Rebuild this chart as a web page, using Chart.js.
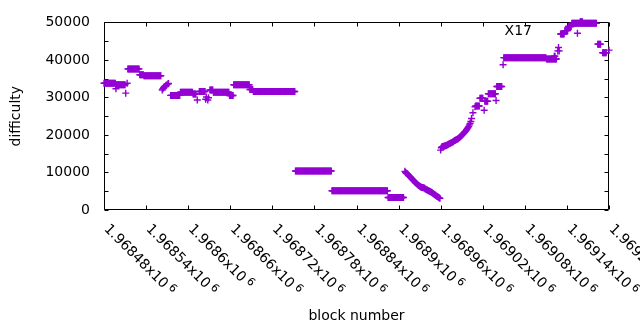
<!DOCTYPE html>
<html><head><meta charset="utf-8">
<script src="https://cdn.jsdelivr.net/npm/chart.js@4.4.1/dist/chart.umd.min.js"></script>
<style>html,body{margin:0;padding:0;background:#fff;}</style>
</head><body>
<canvas id="c" width="640" height="330" style="width:640px;height:330px;display:block"></canvas>
<script>
const seriesName = "X17";
const xTickValues = [1968480,1968540,1968600,1968660,1968720,1968780,1968840,1968900,1968960,1969020,1969080,1969140,1969200];
const yTickValues = [0,5000,10000,15000,20000,25000,30000,35000,40000,45000,50000];

// runs of blocks with constant difficulty
const runStart = [1968480,1968497,1968514,1968531,1968537,1968575,1968589,1968607,1968616,1968631,1968636,1968659,1968665,1968688,1968693,1968753,1968805,1968885,1969010,1969016,1969023,1969028,1969040,1969050,1969111,1969131,1969137,1969142,1969147,1969159,1969184,1969191];
const runEnd   = [1968496,1968510,1968530,1968536,1968561,1968588,1968606,1968611,1968624,1968635,1968658,1968664,1968687,1968692,1968752,1968804,1968884,1968907,1969015,1969020,1969027,1969038,1969047,1969110,1969125,1969136,1969141,1969146,1969182,1969162,1969188,1969196];
const runValue = [33800,33400,37600,36050,35800,30550,31400,30900,31600,32000,31400,30500,33400,32100,31600,10400,5150,3320,27700,29800,29000,31000,32900,40600,40250,46900,47800,48900,49750,50150,44200,41900];

// individual blocks
const pointBlock = [1968497,1968511,1968513,1968563,1968564,1968565,1968566,1968568,1968569,1968571,1968572,1968613,1968625,1968626,1968628,1968629,
1968909,1968910,1968911,1968912,1968913,1968914,1968915,1968916,1968917,1968918,1968919,1968920,1968921,1968922,1968923,1968924,1968925,1968926,1968927,1968928,1968929,1968930,1968931,1968932,1968933,1968934,1968935,1968936,1968937,1968938,1968939,1968940,1968941,1968942,1968943,1968944,1968945,1968946,1968947,1968948,1968949,1968950,1968951,1968952,1968953,1968954,1968955,1968956,1968957,1968958,1968959,
1968960,1968961,1968962,1968963,1968964,1968965,1968966,1968967,1968968,1968969,1968970,1968971,1968972,1968973,1968974,1968975,1968976,1968977,1968978,1968979,1968980,1968981,1968982,1968983,1968984,1968985,1968986,1968987,1968988,1968989,1968990,1968991,1968992,1968993,1968994,1968995,1968996,1968997,1968998,1968999,1969000,1969001,1969002,1969003,
1969004,1969006,1969009,1969022,1969039,1969049,1969122,1969123,1969127,1969128,1969129,1969155,1969200];
const pointValue = [32300,31150,33800,32000,32300,32600,32900,33100,33300,33600,33700,29300,29500,30100,29300,29900,
10300,10000,9800,9700,9500,9300,9100,8900,8700,8500,8300,8100,7900,7700,7500,7300,7100,7000,6800,6600,6500,6300,6200,6100,6000,6000,5900,5900,5800,5600,5500,5400,5300,5200,5100,5000,4900,4800,4700,4600,4400,4300,4100,4000,3900,3700,3600,3500,3300,3200,3100,
15970,16600,16900,16900,17000,17000,17100,17100,17200,17300,17400,17500,17600,17700,17800,17900,18000,18100,18200,18400,18500,18600,18700,18800,18900,19000,19200,19300,19500,19700,19900,20100,20300,20500,20700,20900,21100,21400,21700,22000,22300,22700,23100,23600,
24400,25900,27500,26600,29200,38700,41000,41000,42400,43300,42400,47100,42600];

const pts = [];
for (let i = 0; i < runStart.length; i++) {
  for (let b = runStart[i]; b <= runEnd[i]; b++) pts.push({x: b, y: runValue[i]});
}
for (let i = 0; i < pointBlock.length; i++) pts.push({x: pointBlock[i], y: pointValue[i]});

const FONT = "'DejaVu Sans', sans-serif";
const COLOR = '#9400D3';

const framePlugin = {
  id: 'frame',
  beforeDatasetsDraw(chart) {
    const {ctx, chartArea: a, scales: {x, y}} = chart;
    ctx.save();
    ctx.strokeStyle = '#000';
    ctx.lineWidth = 1;
    ctx.beginPath();
    const L = Math.round(a.left) + 0.5, R = Math.round(a.right) - 0.5, T = Math.round(a.top) + 0.5, B = Math.round(a.bottom) - 0.5;
    ctx.rect(L, T, R - L, B - T);
    const tl = 4;
    yTickValues.forEach(v => {
      const py = Math.round(y.getPixelForValue(v)) + 0.5;
      ctx.moveTo(L, py); ctx.lineTo(L + tl, py);
      ctx.moveTo(R, py); ctx.lineTo(R - tl, py);
    });
    xTickValues.forEach(v => {
      const px = Math.round(x.getPixelForValue(v)) + 0.5;
      ctx.moveTo(px, B); ctx.lineTo(px, B - tl);
      ctx.moveTo(px, T); ctx.lineTo(px, T + tl);
    });
    ctx.stroke();
    ctx.restore();
  },
  afterDraw(chart) {
    const {ctx, chartArea: a, scales: {x}} = chart;
    ctx.save();
    ctx.fillStyle = '#000';
    xTickValues.forEach(v => {
      const px = x.getPixelForValue(v);
      const s = (v / 1e6).toFixed(5).replace(/0+$/, '').replace(/\.$/, '') + 'x10';
      ctx.save();
      ctx.translate(px + 7, a.bottom + 12);
      ctx.rotate(Math.PI / 4);
      ctx.font = '14px ' + FONT;
      ctx.textAlign = 'left';
      ctx.textBaseline = 'top';
      ctx.fillText(s, 0, 0);
      const w = ctx.measureText(s).width;
      ctx.font = '11px ' + FONT;
      ctx.fillText('6', w + 3, -2);
      ctx.restore();
    });
    ctx.font = '14px ' + FONT;
    ctx.textAlign = 'right';
    ctx.textBaseline = 'middle';
    ctx.fillText(seriesName, 532, 31);
    ctx.restore();
  }
};

new Chart(document.getElementById('c'), {
  type: 'scatter',
  data: {
    datasets: [{
      label: seriesName,
      data: pts,
      pointStyle: 'cross',
      pointRadius: 3.5,
      pointHoverRadius: 3.5,
      borderColor: COLOR,
      backgroundColor: COLOR,
      pointBorderWidth: 1.4,
      borderWidth: 1.4,
      showLine: false,
      clip: false
    }]
  },
  options: {
    responsive: false,
    animation: false,
    devicePixelRatio: 1,
    events: [],
    layout: {padding: {left: 0, right: 31, top: 19, bottom: 0}},
    plugins: {legend: {display: false}, tooltip: {enabled: false}},
    scales: {
      x: {
        type: 'linear', min: 1968480, max: 1969200,
        afterBuildTicks: s => { s.ticks = xTickValues.map(v => ({value: v})); },
        afterFit: s => { s.height = 120; },
        ticks: {display: false},
        grid: {display: false},
        border: {display: false},
        title: {display: true, text: 'block number', color: '#000', font: {family: FONT, size: 14}, padding: {top: 0, bottom: 5}}
      },
      y: {
        type: 'linear', min: 0, max: 50000,
        afterBuildTicks: s => { s.ticks = yTickValues.map(v => ({value: v})); },
        afterFit: s => { s.width = 104; },
        ticks: {color: '#000', font: {family: FONT, size: 14}, padding: 14, callback: v => String(v)},
        grid: {display: false, drawTicks: false},
        border: {display: false},
        title: {display: true, text: 'difficulty', color: '#000', font: {family: FONT, size: 14}, padding: {top: 8, bottom: 0}}
      }
    }
  },
  plugins: [framePlugin]
});
</script>
</body></html>
